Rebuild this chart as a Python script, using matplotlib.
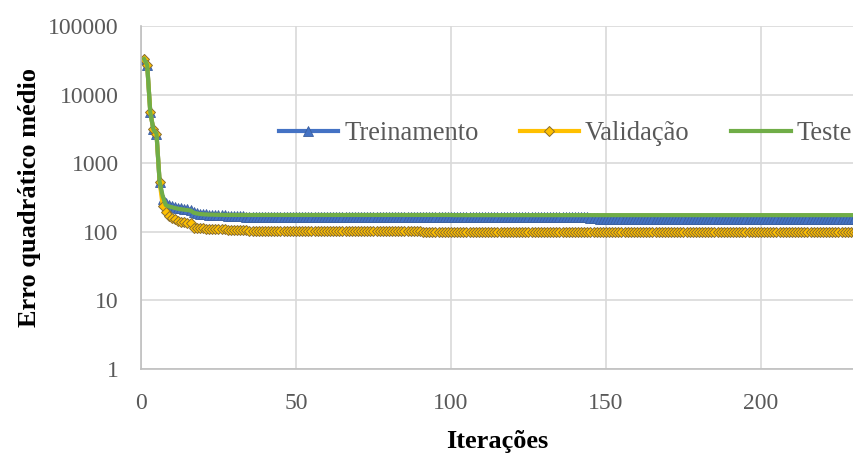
import matplotlib
matplotlib.use("Agg")
import matplotlib.pyplot as plt
from matplotlib.ticker import NullLocator

plt.rcParams["font.family"] = ["Liberation Serif", "DejaVu Serif"]

# Mean squared error per training iteration (iterations 1..232)
treinamento = [
    33000, 27000, 5500, 3100, 2700, 540, 300, 262, 248, 240,
    232, 226, 221, 217, 213, 209, 192, 186, 183, 181,
    179, 178, 177, 176, 175, 174, 173, 172, 171, 170,
    169, 168, 168, 167, 167, 166, 166, 165, 165, 165,
    164, 164, 164, 164, 164, 163, 163, 163, 163, 163,
    163, 163, 163, 163, 163, 163, 163, 163, 163, 163,
    163, 163, 163, 163, 163, 163, 163, 163, 163, 163,
    163, 163, 163, 163, 163, 163, 163, 163, 163, 163,
    163, 163, 163, 163, 163, 163, 163, 163, 163, 163,
    162, 162, 162, 162, 162, 162, 162, 162, 162, 162,
    162, 162, 162, 162, 162, 162, 162, 162, 162, 162,
    162, 162, 162, 162, 162, 162, 162, 162, 162, 162,
    162, 162, 162, 162, 162, 162, 162, 162, 162, 162,
    162, 162, 162, 162, 162, 162, 162, 162, 162, 162,
    162, 162, 162, 162, 160, 158, 157, 156, 156, 156,
    156, 156, 156, 156, 156, 156, 156, 156, 156, 156,
    156, 156, 156, 156, 156, 156, 156, 156, 156, 156,
    156, 156, 156, 156, 156, 156, 156, 156, 156, 156,
    155, 155, 155, 155, 155, 155, 155, 155, 155, 155,
    155, 155, 155, 155, 155, 155, 155, 155, 155, 155,
    155, 155, 155, 155, 155, 155, 155, 155, 155, 155,
    155, 155, 155, 155, 155, 155, 155, 155, 155, 155,
    155, 155, 155, 155, 155, 155, 155, 155, 155, 155,
    155, 155,
]

validacao = [
    33000, 27000, 5500, 3100, 2700, 540, 240, 196, 172, 160,
    152, 146, 141, 138, 135, 133, 114, 113, 112, 112,
    111, 111, 110, 110, 110, 109, 109, 108, 108, 107,
    107, 106, 106, 105, 104, 103, 103, 102, 102, 102,
    102, 102, 102, 102, 102, 102, 102, 102, 102, 102,
    102, 102, 102, 102, 102, 102, 102, 102, 102, 102,
    102, 102, 102, 102, 102, 102, 102, 102, 102, 102,
    102, 102, 102, 102, 102, 102, 102, 102, 102, 102,
    102, 102, 102, 102, 102, 102, 102, 102, 102, 102,
    101, 101, 101, 101, 101, 101, 101, 101, 101, 101,
    101, 101, 101, 101, 101, 101, 101, 101, 101, 101,
    101, 101, 101, 101, 101, 101, 101, 101, 101, 101,
    101, 101, 101, 101, 101, 101, 101, 101, 101, 101,
    101, 101, 101, 101, 101, 101, 101, 101, 101, 101,
    101, 101, 101, 101, 101, 101, 101, 101, 101, 101,
    101, 101, 101, 101, 101, 101, 101, 101, 101, 101,
    101, 101, 101, 101, 101, 101, 101, 101, 101, 101,
    101, 101, 101, 101, 101, 101, 101, 101, 101, 101,
    101, 101, 101, 101, 101, 101, 101, 101, 101, 101,
    101, 101, 101, 101, 101, 101, 101, 101, 101, 101,
    101, 101, 101, 101, 101, 101, 101, 101, 101, 101,
    101, 101, 101, 101, 101, 101, 101, 101, 101, 101,
    101, 101, 101, 101, 101, 101, 101, 101, 101, 101,
    101, 101,
]

teste = [
    33000, 27000, 5500, 3100, 2700, 540, 330, 245, 235, 228,
    222, 217, 213, 210, 207, 204, 190, 185, 182, 180,
    179, 178, 178, 177, 177, 177, 176, 176, 176, 176,
    176, 176, 176, 176, 176, 176, 176, 176, 176, 176,
    176, 176, 176, 176, 176, 176, 176, 176, 176, 176,
    176, 176, 176, 176, 176, 176, 176, 176, 176, 176,
    176, 176, 176, 176, 176, 176, 176, 176, 176, 176,
    176, 176, 176, 176, 176, 176, 176, 176, 176, 176,
    176, 176, 176, 176, 176, 176, 176, 176, 176, 176,
    176, 176, 176, 176, 176, 176, 176, 176, 176, 176,
    175, 175, 175, 175, 175, 175, 175, 175, 175, 175,
    175, 175, 175, 175, 175, 175, 175, 175, 175, 175,
    175, 175, 175, 175, 175, 175, 175, 175, 175, 175,
    175, 175, 175, 175, 175, 175, 175, 175, 175, 175,
    175, 175, 175, 175, 175, 175, 175, 175, 175, 175,
    175, 175, 175, 175, 175, 175, 175, 175, 175, 175,
    175, 175, 175, 175, 175, 175, 175, 175, 175, 175,
    175, 175, 175, 175, 175, 175, 175, 175, 175, 175,
    175, 175, 175, 175, 175, 175, 175, 175, 175, 175,
    175, 175, 175, 175, 175, 175, 175, 175, 175, 175,
    175, 175, 175, 175, 175, 175, 175, 175, 175, 175,
    175, 175, 175, 175, 175, 175, 175, 175, 175, 175,
    175, 175, 175, 175, 175, 175, 175, 175, 175, 175,
    175, 175,
]

x_ticks = [0, 50, 100, 150, 200]
y_ticks = [1, 10, 100, 1000, 10000, 100000]
y_tick_labels = ["1", "10", "100", "1000", "10000", "100000"]

fig = plt.figure(figsize=(8.54, 4.53), dpi=100)
ax = fig.add_axes([141 / 854, 1 - 369 / 453, 713 / 854, 343 / 453])

it_tr = range(1, len(treinamento) + 1)
it_va = range(1, len(validacao) + 1)
it_te = range(1, len(teste) + 1)

ax.plot(it_tr, treinamento, color="#4472C4", lw=3.0, marker="^", ms=6.5,
        mfc="#4472C4", mec="#3b5f9e", mew=0.6, label="Treinamento")
ax.plot(it_va, validacao, color="#FFC000", lw=3.0, marker="D", ms=5.5,
        mfc="#FFC000", mec="#8a6e2f", mew=0.7, label="Validação")
ax.plot(it_te, teste, color="#70AD47", lw=3.0, label="Teste")

ax.set_yscale("log")
ax.set_ylim(1, 100000)
ax.set_xlim(0, 230)
ax.set_xticks(x_ticks)
ax.set_yticks(y_ticks)
ax.set_yticklabels(y_tick_labels)
ax.yaxis.set_minor_locator(NullLocator())

ax.grid(True, color="#d9d9d9", lw=1.2)
ax.set_axisbelow(True)
for s in ("top", "right"):
    ax.spines[s].set_visible(False)
for s in ("left", "bottom"):
    ax.spines[s].set_color("#bfbfbf")
    ax.spines[s].set_linewidth(1.2)

ax.tick_params(axis="both", length=0, labelsize=17, colors="#595959")
ax.tick_params(axis="x", pad=17)
ax.tick_params(axis="y", pad=16)

ax.set_xlabel("Iterações", fontsize=19, fontweight="bold", labelpad=12)
ax.set_ylabel("Erro quadrático médio", fontsize=19, fontweight="bold", labelpad=5)

leg = ax.legend(loc="center left", bbox_to_anchor=(0.193, 0.686), ncol=3,
                frameon=False, fontsize=19.1, borderpad=0, borderaxespad=0,
                handlelength=2.25, handletextpad=0.22, columnspacing=1.55)
for t in leg.get_texts():
    t.set_color("#595959")

fig.savefig("out.png", dpi=100)
